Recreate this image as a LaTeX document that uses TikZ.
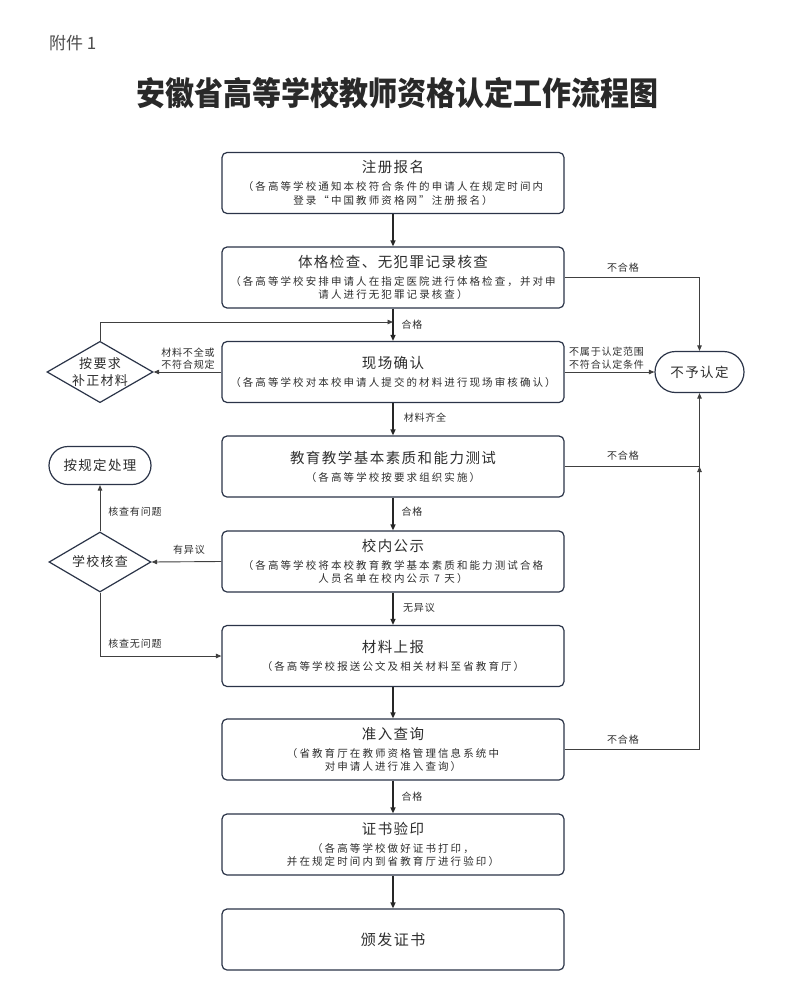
\documentclass[tikz,border=0pt]{standalone}
\usepackage{fontspec}
\setmainfont{Noto Sans CJK SC}
\newfontfamily\subf{Noto Sans CJK SC}[LetterSpace=20]
\newfontfamily\hdf{Noto Sans CJK SC}[LetterSpace=10]
\newfontfamily\lbf{Noto Sans CJK SC}[LetterSpace=8]
\usetikzlibrary{arrows.meta,shapes.geometric,shapes.misc,calc}
\definecolor{ink}{HTML}{2E2E2E}
\definecolor{navy}{HTML}{2B3448}
\newcommand{\bxt}[1]{{\hdf\fontsize{14.5}{17}\selectfont #1}}
\tikzset{
  stepbox/.style={draw=navy, line width=1.2pt, rounded corners=5pt, minimum width=342pt, minimum height=61pt, align=center, text=ink, inner sep=0pt, font=\subf\fontsize{10.5}{13.5}\selectfont},
  endbox/.style={draw=navy, line width=1.2pt, rounded rectangle, inner sep=0pt, text=ink, font=\hdf\fontsize{13.5}{16}\selectfont},
  decbox/.style={draw=navy, line width=1.2pt, diamond, aspect=1.73, inner sep=0pt, align=center, text=ink, font=\hdf\fontsize{13}{16}\selectfont},
  lab/.style={text=ink, inner sep=0pt, align=center, font=\lbf\fontsize{10}{12.5}\selectfont},
  arr/.style={draw=black!85, line width=1.3pt, -{Triangle[length=6pt,width=5pt]}},
  thin/.style={draw=black!75, line width=0.9pt},
  tharr/.style={thin, -{Triangle[length=5.5pt,width=4.5pt]}}
}
\begin{document}
\begin{tikzpicture}[x=1pt,y=-1pt]
\useasboundingbox (0,0) rectangle (793,1003);
\fill[white] (0,0) rectangle (793,1003);
\node[anchor=west, text=ink!85, inner sep=0pt, font=\fontsize{17}{20}\selectfont] (att) at (49,43) {附件 1};
\node[text=ink!90!black, inner sep=0pt, font=\bfseries\fontsize{29}{34}\selectfont] (title) at (397,93) {\scalebox{1}[1.12]{安徽省高等学校教师资格认定工作流程图}};

\node[stepbox] (b1) at (393,183) {\bxt{注册报名}\\[4.5pt]（各高等学校通知本校符合条件的申请人在规定时间内\\登录“中国教师资格网”注册报名）};
\node[stepbox] (b2) at (393,277.5) {\bxt{体格检查、无犯罪记录核查}\\[4.5pt]（各高等学校安排申请人在指定医院进行体格检查，并对申\\请人进行无犯罪记录核查）};
\node[stepbox] (b3) at (393,372) {\bxt{现场确认}\\[4.5pt]（各高等学校对本校申请人提交的材料进行现场审核确认）};
\node[stepbox] (b4) at (393,466.5) {\bxt{教育教学基本素质和能力测试}\\[4.5pt]（各高等学校按要求组织实施）};
\node[stepbox] (b5) at (393,561.5) {\bxt{校内公示}\\[4.5pt]（各高等学校将本校教育教学基本素质和能力测试合格\\人员名单在校内公示 7 天）};
\node[stepbox] (b6) at (393,656) {\bxt{材料上报}\\[4.5pt]（各高等学校报送公文及相关材料至省教育厅）};
\node[stepbox] (b7) at (393,749.5) {\bxt{准入查询}\\[4.5pt]（省教育厅在教师资格管理信息系统中\\对申请人进行准入查询）};
\node[stepbox] (b8) at (393,844.5) {\bxt{证书验印}\\[4.5pt]（各高等学校做好证书打印，\\并在规定时间内到省教育厅进行验印）};
\node[stepbox] (b9) at (393,939.5) {{\hdf\fontsize{15}{17}\selectfont 颁发证书}};

\node[endbox, minimum width=89pt, minimum height=41pt] (nr) at (699.5,372) {不予认定};
\node[endbox, minimum width=102pt, minimum height=38pt] (np) at (100,465.5) {按规定处理};
\node[decbox, minimum width=104pt, minimum height=60pt, font=\hdf\fontsize{13}{17}\selectfont] (d1) at (100,372) {按要求\\补正材料};
\node[decbox, minimum width=102pt, minimum height=60pt] (d2) at (100,562) {学校核查};

\coordinate (m23) at (393,322);
\coordinate (j4) at (b4.east -| nr.south);

% main vertical flow
\draw[arr] (b1) -- (b2);
\draw[arr] (b2) -- (b3);
\draw[arr] (b3) -- (b4);
\draw[arr] (b4) -- (b5);
\draw[arr] (b5) -- (b6);
\draw[arr] (b6) -- (b7);
\draw[arr] (b7) -- (b8);
\draw[arr] (b8) -- (b9);

% left side
\draw[tharr] (b3.west) -- (d1.east);
\draw[tharr] (d1.north) |- (m23);
\draw[tharr] (b5.west) -- (d2.east);
\draw[tharr] (d2.north) -- (np.south);
\draw[tharr] (d2.south) |- (b6.west);

% right side
\draw[tharr] (b2.east) -| (nr.north);
\draw[tharr] (b3.east) -- (nr.west);
\draw[tharr] (b4.east) -| (nr.south);
\draw[tharr] (b7.east) -| (j4);

% labels
\node[lab] (l1) at (623,268) {不合格};
\node[lab] (l2) at (412,325) {合格};
\node[lab, align=left, anchor=west] (l3) at (569,358) {不属于认定范围\\不符合认定条件};
\node[lab] (l4) at (188,358.5) {材料不全或\\不符合规定};
\node[lab] (l5) at (425,418) {材料齐全};
\node[lab] (l6) at (623,456) {不合格};
\node[lab] (l7) at (412,512) {合格};
\node[lab] (l8) at (189,550) {有异议};
\node[lab] (l9) at (135,512) {核查有问题};
\node[lab] (l10) at (419,608) {无异议};
\node[lab] (l11) at (135,644) {核查无问题};
\node[lab] (l12) at (623,740) {不合格};
\node[lab] (l13) at (412,797) {合格};
\end{tikzpicture}
\end{document}
